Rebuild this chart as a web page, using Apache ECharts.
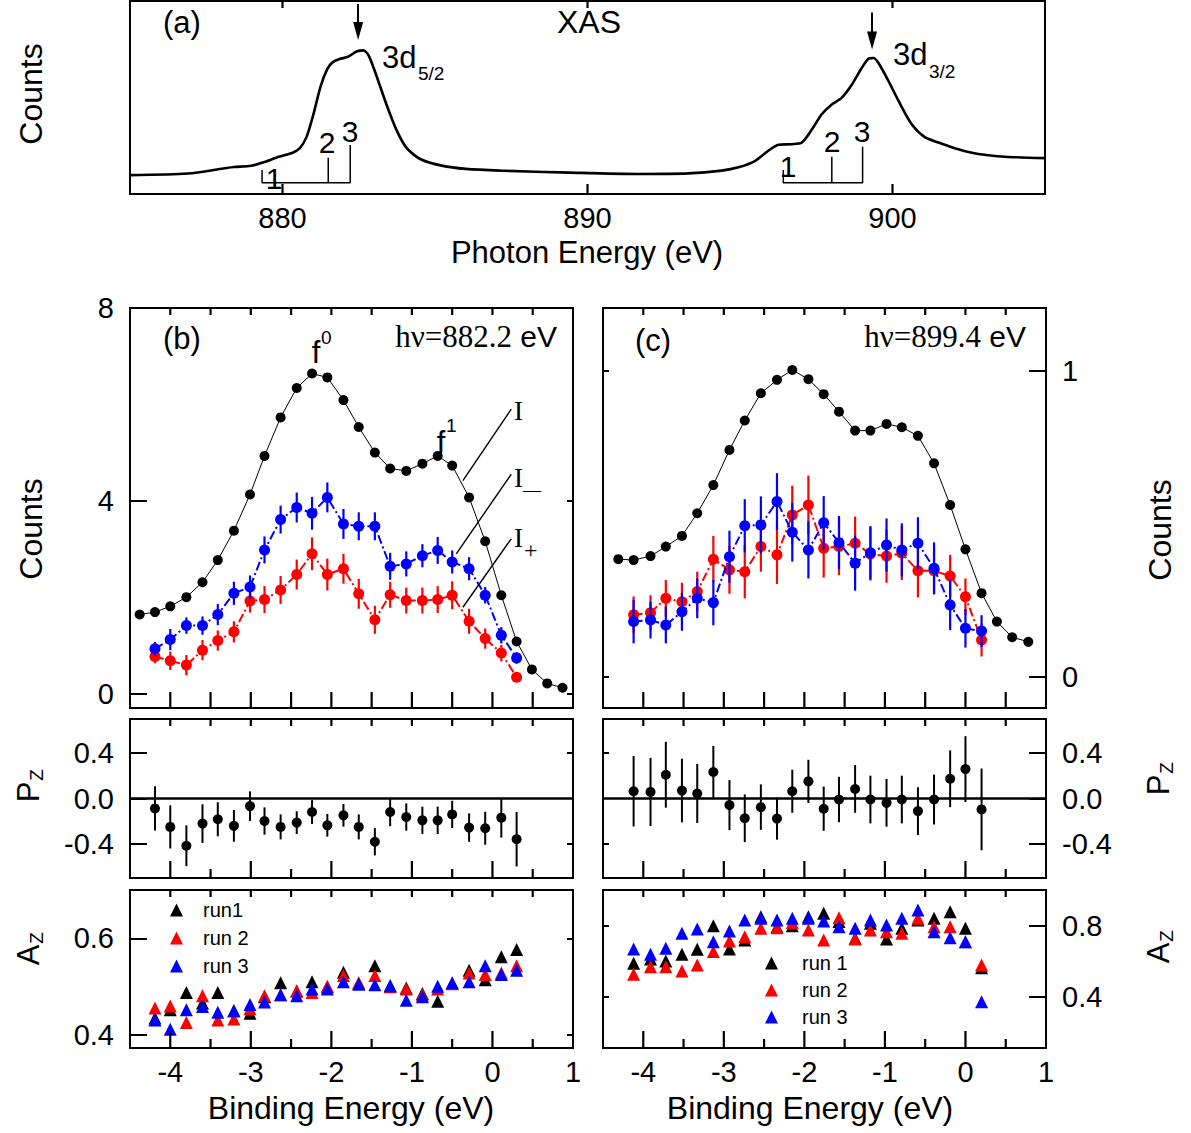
<!DOCTYPE html>
<html><head><meta charset="utf-8"><title>XAS and resonant photoemission</title>
<script src="https://cdn.jsdelivr.net/npm/echarts@6.0.0/dist/echarts.min.js"></script>
<style>html,body{margin:0;padding:0;background:#fff;}#chart{width:1191px;height:1133px;}</style>
</head><body><div id="chart"></div>
<script>
// ---------------- data ----------------
const xasEnergy = [875.0, 876.9, 878.06, 878.4, 878.97, 879.43, 879.88, 880.33, 880.56, 880.79, 881.02, 881.24, 881.47, 881.64, 881.87, 882.15, 882.43, 882.66, 882.83, 883.06, 883.40, 883.74, 884.08, 884.53, 885.22, 886.01, 887.15, 889.42, 891.67, 893.31, 894.40, 894.95, 895.50, 895.93, 896.26, 896.70, 897.03, 897.36, 897.68, 898.01, 898.34, 898.67, 898.99, 899.21, 899.38, 899.54, 899.87, 900.20, 900.63, 901.07, 901.51, 902.16, 902.82, 903.69, 905.0];
const xasCounts = [0.098, 0.106, 0.132, 0.140, 0.146, 0.167, 0.193, 0.214, 0.236, 0.296, 0.416, 0.553, 0.648, 0.682, 0.699, 0.711, 0.738, 0.744, 0.716, 0.622, 0.468, 0.331, 0.236, 0.180, 0.147, 0.130, 0.121, 0.111, 0.104, 0.107, 0.121, 0.138, 0.172, 0.224, 0.255, 0.258, 0.267, 0.335, 0.413, 0.464, 0.499, 0.567, 0.653, 0.701, 0.705, 0.679, 0.585, 0.482, 0.361, 0.293, 0.267, 0.232, 0.207, 0.193, 0.186];

// panel (b): hv = 882.2 eV
const bEnergy = [-4.38, -4.19, -4.00, -3.80, -3.60, -3.41, -3.21, -3.01, -2.83, -2.63, -2.43, -2.24, -2.05, -1.85, -1.66, -1.46, -1.27, -1.07, -0.87, -0.68, -0.50, -0.29, -0.09, 0.11, 0.30, 0.49, 0.68, 0.87];
const bIntensity = [1.64, 1.69, 1.81, 2.00, 2.31, 2.77, 3.38, 4.13, 4.93, 5.73, 6.34, 6.64, 6.56, 6.09, 5.53, 5.00, 4.67, 4.62, 4.77, 4.93, 4.73, 4.07, 3.16, 2.04, 1.08, 0.50, 0.21, 0.12];
const bIminus = [0.93, 1.12, 1.41, 1.41, 1.64, 2.08, 2.21, 2.98, 3.61, 3.86, 3.74, 4.07, 3.52, 3.47, 3.47, 2.64, 2.69, 2.86, 2.97, 2.73, 2.59, 2.04, 1.21, 0.74];
const bIminusErr = [0.14, 0.22, 0.17, 0.19, 0.22, 0.24, 0.24, 0.28, 0.29, 0.31, 0.34, 0.31, 0.31, 0.29, 0.29, 0.28, 0.26, 0.24, 0.28, 0.24, 0.24, 0.17, 0.17, 0.12];
const bIplus = [0.77, 0.68, 0.59, 0.90, 1.10, 1.28, 1.92, 1.95, 2.15, 2.47, 2.90, 2.47, 2.59, 2.07, 1.53, 2.05, 1.93, 1.93, 1.95, 2.04, 1.50, 1.14, 0.84, 0.34];
const bIplusErr = [0.14, 0.19, 0.21, 0.21, 0.21, 0.22, 0.24, 0.28, 0.29, 0.31, 0.34, 0.33, 0.31, 0.31, 0.29, 0.27, 0.27, 0.27, 0.28, 0.29, 0.26, 0.21, 0.17, 0.10];
const bPz = [-0.087, -0.250, -0.416, -0.221, -0.183, -0.241, -0.067, -0.198, -0.250, -0.212, -0.119, -0.236, -0.148, -0.250, -0.381, -0.119, -0.163, -0.192, -0.192, -0.140, -0.256, -0.262, -0.169, -0.358];
const bPzErr = [0.195, 0.19, 0.18, 0.17, 0.15, 0.14, 0.13, 0.12, 0.11, 0.10, 0.105, 0.10, 0.10, 0.11, 0.12, 0.125, 0.12, 0.12, 0.12, 0.12, 0.125, 0.145, 0.175, 0.24];
const bAzRun1 = [0.435, 0.452, 0.488, 0.466, 0.488, 0.450, 0.445, 0.479, 0.508, 0.491, 0.510, 0.500, 0.530, 0.507, 0.543, 0.502, 0.497, 0.486, 0.470, 0.507, 0.534, 0.514, 0.562, 0.577];
const bAzRun2 = [0.456, 0.460, 0.426, 0.481, 0.431, 0.433, 0.454, 0.481, 0.483, 0.491, 0.488, 0.501, 0.523, 0.508, 0.523, 0.500, 0.495, 0.483, 0.495, 0.506, 0.528, 0.525, 0.528, 0.543];
const bAzRun3 = [0.431, 0.412, 0.452, 0.459, 0.447, 0.450, 0.463, 0.468, 0.483, 0.481, 0.495, 0.495, 0.510, 0.505, 0.504, 0.502, 0.472, 0.479, 0.501, 0.508, 0.510, 0.543, 0.525, 0.534];

// panel (c): hv = 899.4 eV
const cEnergy = [-4.31, -4.12, -3.91, -3.72, -3.52, -3.33, -3.13, -2.93, -2.74, -2.54, -2.34, -2.15, -1.95, -1.76, -1.57, -1.37, -1.18, -0.98, -0.79, -0.59, -0.39, -0.19, 0.00, 0.20, 0.39, 0.58, 0.78];
const cIntensity = [0.384, 0.381, 0.394, 0.425, 0.460, 0.534, 0.626, 0.741, 0.837, 0.926, 0.970, 1.002, 0.972, 0.923, 0.866, 0.804, 0.804, 0.826, 0.815, 0.787, 0.697, 0.561, 0.416, 0.273, 0.180, 0.129, 0.114];
const cIminus = [0.180, 0.185, 0.169, 0.212, 0.256, 0.242, 0.392, 0.493, 0.496, 0.572, 0.472, 0.414, 0.503, 0.438, 0.371, 0.405, 0.430, 0.414, 0.436, 0.354, 0.234, 0.158, 0.149];
const cIminusErr = [0.071, 0.060, 0.060, 0.062, 0.065, 0.074, 0.085, 0.087, 0.093, 0.093, 0.096, 0.093, 0.087, 0.087, 0.090, 0.087, 0.087, 0.087, 0.085, 0.085, 0.082, 0.063, 0.052];
const cIplus = [0.202, 0.209, 0.256, 0.245, 0.278, 0.384, 0.349, 0.343, 0.425, 0.398, 0.528, 0.561, 0.420, 0.425, 0.436, 0.401, 0.394, 0.403, 0.346, 0.346, 0.329, 0.261, 0.120];
const cIplusErr = [0.060, 0.057, 0.060, 0.062, 0.065, 0.076, 0.078, 0.087, 0.082, 0.095, 0.096, 0.096, 0.096, 0.093, 0.087, 0.087, 0.087, 0.087, 0.087, 0.076, 0.069, 0.060, 0.054];
const cPz = [0.064, 0.058, 0.209, 0.070, 0.044, 0.233, -0.058, -0.174, -0.076, -0.177, 0.064, 0.151, -0.090, -0.009, 0.084, -0.009, -0.038, -0.009, -0.111, -0.009, 0.174, 0.259, -0.096];
const cPzErr = [0.31, 0.30, 0.29, 0.28, 0.26, 0.23, 0.22, 0.21, 0.20, 0.185, 0.19, 0.19, 0.195, 0.20, 0.21, 0.21, 0.21, 0.21, 0.21, 0.22, 0.25, 0.29, 0.36];
const cAzRun1 = [0.588, 0.612, 0.601, 0.639, 0.667, 0.800, 0.668, 0.719, 0.851, 0.794, 0.800, 0.851, 0.870, 0.823, 0.729, 0.814, 0.725, 0.785, 0.832, 0.842, 0.879, 0.785, 0.563];
const cAzRun2 = [0.526, 0.569, 0.569, 0.545, 0.579, 0.654, 0.714, 0.738, 0.785, 0.789, 0.818, 0.776, 0.719, 0.845, 0.725, 0.776, 0.766, 0.757, 0.842, 0.794, 0.794, 0.710, 0.579];
const cAzRun3 = [0.669, 0.639, 0.673, 0.757, 0.781, 0.710, 0.770, 0.832, 0.842, 0.832, 0.842, 0.842, 0.826, 0.794, 0.785, 0.832, 0.804, 0.842, 0.888, 0.766, 0.732, 0.710, 0.372];

// tick values / labels
const xasTicks = [880, 890, 900];
const beHalfTicks = [-4, -3.5, -3, -2.5, -2, -1.5, -1, -0.5, 0, 0.5];
const beMajorTicks = [-4, -3, -2, -1, 0];
const beMinorTicks = [-3.5, -2.5, -1.5, -0.5, 0.5];
const beLabels = [-4, -3, -2, -1, 0, 1];
const bCountTicks = [0, 4, 8];
const cCountTicks = [0, 1];
const pzTicks = [-0.4, 0, 0.4];
const bAzTicks = [0.4, 0.6];
const cAzTicks = [0.4, 0.8];

// annotation geometry (data coordinates)
const xasBrackets = [
  [[879.33, 0.124], [879.33, 0.058], [882.22, 0.058], [882.22, 0.254]],
  [[881.50, 0.058], [881.50, 0.188]],
  [[896.42, 0.124], [896.42, 0.058], [899.02, 0.058], [899.02, 0.245]],
  [[898.01, 0.058], [898.01, 0.193]]
];
const xasArrows = [[[882.48, 0.985], [882.48, 0.845]], [[899.33, 0.94], [899.33, 0.795]]];
const bLeaders = [
  [[-0.367, 4.42], [0.233, 5.90]],
  [[-0.449, 2.90], [0.233, 4.55]],
  [[-0.367, 1.79], [0.233, 3.21]]
];

// ---------------- chart ----------------
const FONT = "'Liberation Sans', Arial, Helvetica, sans-serif";
const SERIF = "'Liberation Serif', 'Times New Roman', serif";
const RED = '#ff0000', BLUE = '#0000ff', BLACK = '#000000';
const zip = (xs, ys) => xs.map((x, i) => [x, ys[i]]);
const bEnergyPol = bEnergy.slice(1, 25);
const cEnergyPol = cEnergy.slice(1, 24);

const grids = [], xAxes = [], yAxes = [], series = [];
function grid(l, t, w, h) {
  grids.push({left: l, top: t, width: w, height: h, show: true, borderColor: '#000', borderWidth: 2, backgroundColor: 'transparent'});
  return grids.length - 1;
}
function axis(list, g, pos, min, max, ticks, len, labels, fmt, margin) {
  list.push({
    type: 'value', gridIndex: g, position: pos, min: min, max: max,
    axisLine: {show: false, onZero: false}, splitLine: {show: false}, minorTick: {show: false}, splitArea: {show: false},
    axisTick: {show: ticks.length > 0, inside: true, length: len, customValues: ticks, lineStyle: {color: '#000', width: 2}},
    axisLabel: labels ? {show: true, customValues: labels, margin: margin || 12, color: '#000', fontSize: 29, fontFamily: FONT,
      formatter: fmt || (v => String(v))} : {show: false}
  });
  return list.length - 1;
}
const f1 = v => v.toFixed(1);

const gA = grid(130, 1, 915, 193);
const gB = grid(130, 308, 443, 400);
const gC = grid(603, 308, 443, 400);
const gBP = grid(130, 719, 443, 159);
const gCP = grid(603, 719, 443, 159);
const gBA = grid(130, 890, 443, 158);
const gCA = grid(603, 890, 443, 158);

// x axes (one per grid)
const xA = axis(xAxes, gA, 'bottom', 875, 905, [], 0, xasTicks, null, 9);
const xB = axis(xAxes, gB, 'bottom', -4.5, 1, [], 0);
const xC = axis(xAxes, gC, 'bottom', -4.5, 1, [], 0);
const xBP = axis(xAxes, gBP, 'bottom', -4.5, 1, [], 0);
const xCP = axis(xAxes, gCP, 'bottom', -4.5, 1, [], 0);
const xBA = axis(xAxes, gBA, 'bottom', -4.5, 1, [], 0, beLabels, null, 9);
const xCA = axis(xAxes, gCA, 'bottom', -4.5, 1, [], 0, beLabels, null, 9);

// y axes
const yInfo = {};
function yAxisPair(g, side, min, max, ticks, labels, fmt, mirrorTicks) {
  const main = axis(yAxes, g, side, min, max, ticks, 17, labels, fmt, 16);
  axis(yAxes, g, side === 'left' ? 'right' : 'left', min, max, mirrorTicks, 6);
  yInfo[main] = {min: min, max: max, g: g};
  return main;
}
const yA = yAxisPair(gA, 'left', 0, 1, [], null, null, []);
const yB = yAxisPair(gB, 'left', -0.3, 8, bCountTicks, bCountTicks, null, [0, 4]);
const yC = yAxisPair(gC, 'right', -0.1023, 1.2046, cCountTicks, cCountTicks, null, cCountTicks);
const yBP = yAxisPair(gBP, 'left', -0.7, 0.7, pzTicks, pzTicks, f1, [-0.4, 0.4]);
const yCP = yAxisPair(gCP, 'right', -0.7, 0.7, pzTicks, pzTicks, f1, [-0.4, 0.4]);
const yBA = yAxisPair(gBA, 'left', 0.373, 0.70, bAzTicks, bAzTicks, f1, bAzTicks);
const yCA = yAxisPair(gCA, 'right', 0.111, 1.001, cAzTicks, cAzTicks, f1, cAzTicks);

// x tick specification: [xAxis, yAxis, values, edge, length]
const xTickSpecs = [[xA, yA, xasTicks, 'bottom', 10], [xA, yA, xasTicks, 'top', 7]];
[[xB, yB], [xC, yC]].forEach(([xi, yi]) => { xTickSpecs.push([xi, yi, beHalfTicks, 'bottom', 16], [xi, yi, beHalfTicks, 'top', 7]); });
[[xBP, yBP], [xCP, yCP], [xBA, yBA], [xCA, yCA]].forEach(([xi, yi]) => {
  xTickSpecs.push([xi, yi, beMajorTicks, 'bottom', 17], [xi, yi, beMinorTicks, 'bottom', 9], [xi, yi, beHalfTicks, 'top', 7]);
});

// helpers for series
function polyline(xi, yi, pts, width, extra) {
  series.push(Object.assign({type: 'line', xAxisIndex: xi, yAxisIndex: yi, data: pts, showSymbol: false, symbol: 'none',
    lineStyle: {color: BLACK, width: width}, silent: true, z: 3}, extra || {}));
}
function errBars(xi, yi, xs, ys, es, color, width, z) {
  series.push({
    type: 'custom', xAxisIndex: xi, yAxisIndex: yi, silent: true, z: z,
    data: xs.map((x, i) => [x, ys[i] - es[i], ys[i] + es[i]]),
    encode: {x: 0, y: [1, 2]},
    renderItem: function (params, api) {
      const a = api.coord([api.value(0), api.value(1)]);
      const b = api.coord([api.value(0), api.value(2)]);
      return {type: 'line', shape: {x1: a[0], y1: a[1], x2: b[0], y2: b[1]}, style: {stroke: color, lineWidth: width}};
    }
  });
}
function dotLine(xi, yi, xs, ys, color, size, lineW, dash, z) {
  series.push({type: 'line', xAxisIndex: xi, yAxisIndex: yi, data: zip(xs, ys), symbol: 'circle', symbolSize: size, showSymbol: true,
    itemStyle: {color: color, borderWidth: 0, opacity: 1}, lineStyle: {color: color, width: lineW, type: dash || 'solid'}, silent: true, z: z});
}
function tri(name, xi, yi, xs, ys, color, z) {
  series.push({name: name, type: 'scatter', xAxisIndex: xi, yAxisIndex: yi, data: zip(xs, ys), symbol: 'triangle', symbolSize: 13,
    itemStyle: {color: color, opacity: 1}, silent: true, z: z});
}

// x tick marks: thin rectangular symbols placed on the frame edge through each grid's x scale
xTickSpecs.forEach(([xi, yi, vals, edge, len]) => {
  const inf = yInfo[yi];
  const yv = edge === 'bottom' ? inf.min : inf.max;
  series.push({
    type: 'scatter', xAxisIndex: xi, yAxisIndex: yi, silent: true, z: 20, clip: false,
    data: vals.map(v => [v, yv]), symbol: 'rect', symbolSize: [2.2, len],
    symbolOffset: [0, edge === 'bottom' ? -len / 2 : len / 2],
    itemStyle: {color: BLACK, opacity: 1, borderWidth: 0}
  });
});

// (a) XAS
series.push({type: 'line', xAxisIndex: xA, yAxisIndex: yA, data: zip(xasEnergy, xasCounts), smooth: 0.25, showSymbol: false,
  lineStyle: {color: BLACK, width: 2.6}, silent: true, z: 3,
  markLine: {silent: true, symbol: ['none', 'triangle'], symbolSize: [10, 18], label: {show: false},
    lineStyle: {color: BLACK, width: 2, type: 'solid'},
    data: xasArrows.map(a => [{coord: a[0]}, {coord: a[1]}])}});
xasBrackets.forEach(p => polyline(xA, yA, p, 1.5));

// (b) main
dotLine(xB, yB, bEnergy, bIntensity, BLACK, 10, 1, 'solid', 4);
errBars(xB, yB, bEnergyPol, bIplus, bIplusErr, RED, 2.2, 5);
dotLine(xB, yB, bEnergyPol, bIplus, RED, 11, 2, [9, 3, 2, 3], 6);
errBars(xB, yB, bEnergyPol, bIminus, bIminusErr, BLUE, 2.2, 7);
dotLine(xB, yB, bEnergyPol, bIminus, BLUE, 11, 2, [9, 3, 2, 3], 8);
bLeaders.forEach(p => polyline(xB, yB, p, 1.4, {z: 9}));

// (c) main
dotLine(xC, yC, cEnergy, cIntensity, BLACK, 10, 1, 'solid', 4);
errBars(xC, yC, cEnergyPol, cIplus, cIplusErr, RED, 2.2, 5);
dotLine(xC, yC, cEnergyPol, cIplus, RED, 11, 2, [9, 3, 2, 3], 6);
errBars(xC, yC, cEnergyPol, cIminus, cIminusErr, BLUE, 2.2, 7);
dotLine(xC, yC, cEnergyPol, cIminus, BLUE, 11, 2, [9, 3, 2, 3], 8);

// Pz
const zeroLine = {silent: true, symbol: 'none', label: {show: false}, lineStyle: {color: BLACK, width: 2.5, type: 'solid'}, data: [{yAxis: 0}]};
errBars(xBP, yBP, bEnergyPol, bPz, bPzErr, BLACK, 2, 5);
series.push({type: 'scatter', xAxisIndex: xBP, yAxisIndex: yBP, data: zip(bEnergyPol, bPz), symbol: 'circle', symbolSize: 10,
  itemStyle: {color: BLACK, opacity: 1}, silent: true, z: 6, markLine: zeroLine});
errBars(xCP, yCP, cEnergyPol, cPz, cPzErr, BLACK, 2, 5);
series.push({type: 'scatter', xAxisIndex: xCP, yAxisIndex: yCP, data: zip(cEnergyPol, cPz), symbol: 'circle', symbolSize: 10,
  itemStyle: {color: BLACK, opacity: 1}, silent: true, z: 6, markLine: zeroLine});

// Az
tri('run1', xBA, yBA, bEnergyPol, bAzRun1, BLACK, 5);
tri('run 2', xBA, yBA, bEnergyPol, bAzRun2, RED, 6);
tri('run 3', xBA, yBA, bEnergyPol, bAzRun3, BLUE, 7);
tri('run 1', xCA, yCA, cEnergyPol, cAzRun1, BLACK, 5);
tri('run 2', xCA, yCA, cEnergyPol, cAzRun2, RED, 6);
tri('run 3', xCA, yCA, cEnergyPol, cAzRun3, BLUE, 7);

// text
function T(x, y, text, size, align, family) {
  return {type: 'text', x: x, y: y, z: 100, silent: true,
    style: {text: text, fontSize: size, fontFamily: family || FONT, fill: '#000', align: align || 'left', verticalAlign: 'middle'}};
}
function R(x, y, parts) {
  return {type: 'group', x: x, y: y, rotation: Math.PI / 2, z: 100, silent: true,
    children: parts.map(p => ({type: 'text', x: p[1], y: p[2], silent: true,
      style: {text: p[0], fontSize: p[3], fontFamily: FONT, fill: '#000', align: 'center', verticalAlign: 'middle'}}))};
}
function H(xRight, y, main) {
  return {type: 'text', x: xRight, y: y, z: 100, silent: true,
    style: {text: '{s|' + main + '}{n| eV}', align: 'right', verticalAlign: 'middle', fill: '#000',
      rich: {s: {fontFamily: SERIF, fontSize: 31, fill: '#000'}, n: {fontFamily: FONT, fontSize: 30, fill: '#000'}}}};
}
const graphic = [
  T(163, 22, '(a)', 31), T(589, 22, 'XAS', 32, 'center'),
  T(382, 57, '3d', 31), T(418, 73, '5/2', 19),
  T(893, 54, '3d', 31), T(929, 71, '3/2', 19),
  T(274, 178, '1', 30, 'center'), T(327, 142, '2', 30, 'center'), T(350, 131, '3', 30, 'center'),
  T(788, 166, '1', 30, 'center'), T(832, 141, '2', 30, 'center'), T(862, 131, '3', 30, 'center'),
  T(587, 252, 'Photon Energy (eV)', 31, 'center'),
  T(163, 338, '(b)', 31),
  T(316, 352, 'f', 31, 'center'), T(321, 337, '0', 19),
  H(557, 336, 'hν=882.2'),
  T(441, 442, 'f', 31, 'center'), T(446, 425, '1', 19),
  T(514, 411, 'I', 27, 'left', SERIF),
  T(514, 478, 'I', 27, 'left', SERIF), T(523, 490, '—', 18, 'left', SERIF),
  T(514, 538, 'I', 27, 'left', SERIF), T(524, 550, '+', 24, 'left', SERIF),
  T(635, 340, '(c)', 31),
  H(1026, 336, 'hν=899.4'),
  T(351, 1108, 'Binding Energy (eV)', 32, 'center'),
  T(810, 1108, 'Binding Energy (eV)', 32, 'center'),
  R(31, 94, [['Counts', 0, 0, 32]]),
  R(31, 529, [['Counts', 0, 0, 32]]),
  R(28, 787, [['P', -5, 0, 31], ['Z', 12, 8, 19]]),
  R(28, 950, [['A', -5, 0, 31], ['Z', 12, 8, 19]]),
  R(1160, 530, [['Counts', 0, 0, 32]]),
  R(1158, 780, [['P', -5, 0, 31], ['Z', 12, 8, 19]]),
  R(1158, 948, [['A', -5, 0, 31], ['Z', 12, 8, 19]])
];

function legendStyle(gap) {
  return {fontSize: 20, fontFamily: FONT, color: '#000', lineHeight: 20,
    rich: {g: {width: gap, fontSize: 20}, t: {fontSize: 20, fontFamily: FONT, color: '#000'}}};
}
const chart = echarts.init(document.getElementById('chart'), null, {renderer: 'svg'});
chart.setOption({
  animation: false,
  backgroundColor: '#fff',
  grid: grids, xAxis: xAxes, yAxis: yAxes, series: series, graphic: graphic,
  legend: [
    {data: ['run1', 'run 2', 'run 3'], orient: 'vertical', left: 170, top: 900, itemWidth: 13, itemHeight: 13, itemGap: 8,
      padding: 0, selectedMode: false, formatter: n => '{g|}{t|' + n + '}', textStyle: legendStyle(15)},
    {data: ['run 1', 'run 2', 'run 3'], orient: 'vertical', left: 765, top: 953, itemWidth: 13, itemHeight: 13, itemGap: 7,
      padding: 0, selectedMode: false, formatter: n => '{g|}{t|' + n + '}', textStyle: legendStyle(19)}
  ]
});
</script></body></html>
